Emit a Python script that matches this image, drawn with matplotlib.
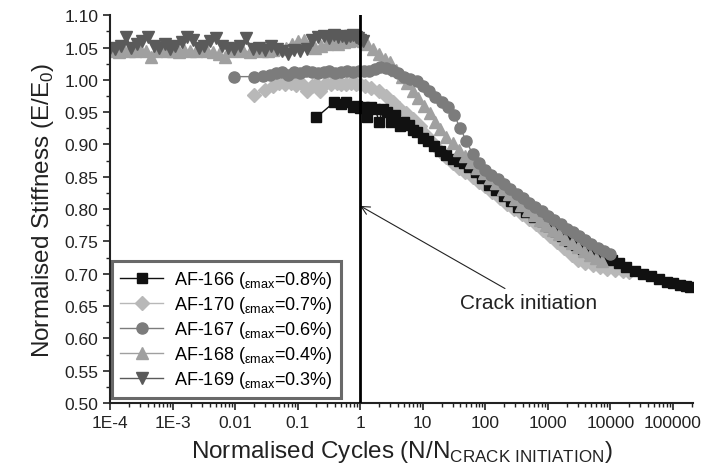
import matplotlib
matplotlib.use('Agg')
import matplotlib.pyplot as plt
from matplotlib.ticker import LogLocator, MultipleLocator, NullFormatter

plt.rcParams['font.family'] = ['Liberation Sans', 'DejaVu Sans']
plt.rcParams['mathtext.fontset'] = 'custom'
plt.rcParams['mathtext.rm'] = 'Liberation Sans'

# AF-169 (emax = 0.3%)
x169 = [1.0e-4, 1.2e-4, 1.5e-4, 1.8e-4, 2.2e-4, 2.7e-4, 3.3e-4, 4.0e-4, 5.0e-4, 6.0e-4,
        7.5e-4, 9.0e-4, 1.1e-3, 1.4e-3, 1.7e-3, 2.1e-3, 2.6e-3, 3.2e-3, 4.0e-3, 5.0e-3,
        6.2e-3, 7.7e-3, 9.5e-3, 0.012, 0.015, 0.019, 0.024, 0.030, 0.037, 0.046,
        0.057, 0.071, 0.088, 0.11, 0.14, 0.17, 0.21, 0.26, 0.32, 0.38,
        0.45, 0.52, 0.60, 0.68, 0.76, 0.85, 0.93, 1.0, 1.1]
y169 = [1.050, 1.048, 1.052, 1.066, 1.050, 1.055, 1.060, 1.066, 1.052, 1.050,
        1.055, 1.048, 1.052, 1.058, 1.066, 1.062, 1.050, 1.053, 1.060, 1.065,
        1.052, 1.050, 1.048, 1.052, 1.064, 1.048, 1.050, 1.046, 1.052, 1.048,
        1.045, 1.040, 1.046, 1.044, 1.048, 1.062, 1.066, 1.068, 1.065, 1.070,
        1.066, 1.068, 1.065, 1.068, 1.070, 1.066, 1.064, 1.062, 1.060]

# AF-168 (emax = 0.4%)
x168 = [1.1e-4, 1.4e-4, 1.7e-4, 2.0e-4, 2.5e-4, 3.0e-4, 3.7e-4, 4.6e-4, 5.5e-4, 6.8e-4,
        8.2e-4, 1.0e-3, 1.25e-3, 1.55e-3, 1.9e-3, 2.4e-3, 2.9e-3, 3.6e-3, 4.5e-3, 5.6e-3,
        7.0e-3, 8.6e-3, 0.011, 0.0135, 0.017, 0.021, 0.027, 0.033, 0.041, 0.051,
        0.064, 0.08, 0.1, 0.125, 0.155, 0.19, 0.24, 0.29, 0.36, 0.44,
        0.55, 0.67, 0.8, 0.95,
        1.1, 1.3, 1.6, 2.0, 2.5, 3.0, 3.7, 4.6, 5.6, 7.0,
        8.5, 10.5, 13, 16, 19, 24, 30, 38, 48, 60,
        75, 95, 120, 150, 190, 240, 300, 380, 480, 600,
        760, 950, 1200, 1500, 1900, 2400, 3000, 3800, 4800, 6000, 7500]
y168 = [1.045, 1.043, 1.046, 1.044, 1.045, 1.048, 1.044, 1.036, 1.045, 1.046,
        1.044, 1.045, 1.043, 1.046, 1.045, 1.044, 1.046, 1.045, 1.043, 1.040,
        1.036, 1.044, 1.046, 1.045, 1.043, 1.046, 1.045, 1.044, 1.046, 1.048,
        1.050, 1.055, 1.060, 1.062, 1.056, 1.050, 1.052, 1.055, 1.058, 1.056,
        1.058, 1.060, 1.062, 1.062,
        1.060, 1.056, 1.048, 1.040, 1.032, 1.027, 1.015, 1.005, 0.995, 0.982,
        0.972, 0.960, 0.948, 0.935, 0.924, 0.912, 0.902, 0.892, 0.882, 0.873,
        0.864, 0.856, 0.848, 0.840, 0.831, 0.823, 0.815, 0.807, 0.799, 0.791,
        0.783, 0.776, 0.768, 0.761, 0.754, 0.747, 0.741, 0.735, 0.729, 0.724, 0.720]

# AF-167 (emax = 0.6%)
x167 = [0.0095, 0.02, 0.028, 0.036, 0.045, 0.056, 0.07, 0.087, 0.11, 0.135,
        0.17, 0.21, 0.26, 0.32, 0.40, 0.50, 0.62, 0.77, 0.95,
        1.15, 1.4, 1.7, 2.1, 2.6, 3.2, 4.0, 5.0, 6.3, 8.0,
        10, 12.5, 16, 20, 25, 32, 40, 50, 63, 80,
        100, 125, 160, 200, 250, 320, 400, 500, 630, 800,
        1000, 1250, 1600, 2000, 2500, 3200, 4000, 5000, 6300, 8000, 10000]
y167 = [1.005, 1.005, 1.006, 1.008, 1.010, 1.012, 1.008, 1.012, 1.010, 1.013,
        1.012, 1.010, 1.012, 1.013, 1.011, 1.012, 1.013, 1.012, 1.013,
        1.013, 1.014, 1.017, 1.020, 1.019, 1.015, 1.010, 1.005, 1.002, 0.998,
        0.990, 0.982, 0.974, 0.965, 0.958, 0.945, 0.925, 0.905, 0.885, 0.872,
        0.860, 0.853, 0.846, 0.839, 0.831, 0.824, 0.817, 0.810, 0.804, 0.797,
        0.790, 0.783, 0.777, 0.770, 0.764, 0.758, 0.752, 0.746, 0.740, 0.735, 0.730]

# AF-170 (emax = 0.7%)
x170 = [0.02, 0.03, 0.04, 0.05, 0.062, 0.077, 0.095, 0.115, 0.14, 0.17,
        0.2, 0.23, 0.28, 0.34, 0.42, 0.5, 0.6, 0.72, 0.86, 1.0,
        1.2, 1.5, 2.0, 2.6, 3.3, 4.2, 5.4, 7.0, 9.0, 11.5,
        14.5, 19, 24, 30, 38, 48, 63, 80, 100, 130,
        170, 220, 290, 390, 500, 650, 850, 1100, 1400, 1800,
        2400, 3100, 4000, 5200, 6800, 9000, 12000, 16000, 20000]
y170 = [0.976, 0.985, 0.990, 0.995, 0.993, 0.995, 0.992, 0.995, 0.982, 0.990,
        0.994, 0.982, 0.995, 0.993, 0.995, 0.994, 0.993, 0.995, 0.993, 0.993,
        0.990, 0.988, 0.982, 0.975, 0.966, 0.957, 0.948, 0.940, 0.928, 0.915,
        0.903, 0.890, 0.880, 0.872, 0.864, 0.857, 0.850, 0.842, 0.835, 0.826,
        0.817, 0.808, 0.800, 0.793, 0.785, 0.777, 0.768, 0.758, 0.749, 0.740,
        0.729, 0.722, 0.717, 0.713, 0.710, 0.708, 0.706, 0.704, 0.702]

# AF-166 (emax = 0.8%)
x166 = [0.2, 0.38, 0.5, 0.59, 0.76, 0.9, 1.0, 1.15, 1.3, 1.5,
        1.75, 2.0, 2.3, 2.7, 3.1, 3.6, 4.3, 5.0, 6.0, 7.0,
        8.1, 10, 12, 15, 19, 24, 30, 38, 45, 55,
        70, 90, 115, 150, 200, 260, 340, 450, 600, 800,
        1000, 1300, 1700, 2200, 2800, 3600, 4600, 6000, 8000, 10500,
        14000, 18000, 25000, 33000, 45000, 60000, 80000, 100000, 130000, 160000, 185000]
y166 = [0.942, 0.965, 0.963, 0.965, 0.958, 0.960, 0.957, 0.958, 0.942, 0.958,
        0.955, 0.935, 0.955, 0.950, 0.935, 0.945, 0.928, 0.935, 0.930, 0.922,
        0.919, 0.910, 0.905, 0.898, 0.890, 0.883, 0.878, 0.875, 0.872, 0.865,
        0.857, 0.848, 0.838, 0.829, 0.820, 0.812, 0.804, 0.796, 0.788, 0.781,
        0.774, 0.766, 0.758, 0.751, 0.745, 0.739, 0.734, 0.729, 0.725, 0.721,
        0.716, 0.711, 0.705, 0.700, 0.696, 0.692, 0.688, 0.686, 0.683, 0.681, 0.680]

xtick_vals = [1e-4, 1e-3, 0.01, 0.1, 1, 10, 100, 1000, 10000, 100000]
xtick_labels = ['1E-4', '1E-3', '0.01', '0.1', '1', '10', '100', '1000', '10000', '100000']

fig = plt.figure(figsize=(7.1, 4.77), dpi=100)
ax = fig.add_axes([0.155, 0.153, 0.821, 0.813])

ms = 8
def lab(name, e):
    return name + r' ($\mathregular{{}_{\varepsilon max}}$=' + e + ')'

# drawing order: light series at the back, darker ones on top
h170, = ax.plot(x170, y170, '-D', color='#b8b8b8', ms=ms * 0.85, lw=1, label=lab('AF-170', '0.7%'))
h166, = ax.plot(x166, y166, '-s', color='#111111', ms=ms * 0.85, lw=1, label=lab('AF-166', '0.8%'))
h168, = ax.plot(x168, y168, '-^', color='#a0a0a0', ms=ms, lw=1, label=lab('AF-168', '0.4%'))
h167, = ax.plot(x167, y167, '-o', color='#7c7c7c', ms=ms, lw=1, label=lab('AF-167', '0.6%'))
h169, = ax.plot(x169, y169, '-v', color='#5a5a5a', ms=ms, lw=1, label=lab('AF-169', '0.3%'))

ax.axvline(1, color='black', lw=2, zorder=5)

ax.annotate('Crack initiation', xy=(1, 0.805), xytext=(40, 0.656),
            fontsize=15, color='#222222', va='center', ha='left',
            arrowprops=dict(arrowstyle='->', color='#222222', lw=0.8, shrinkA=2, shrinkB=0))

ax.set_xscale('log')
ax.set_xlim(1e-4, 2.1e5)
ax.set_ylim(0.5, 1.1)
ax.set_xticks(xtick_vals)
ax.set_xticklabels(xtick_labels)
ax.xaxis.set_minor_locator(LogLocator(base=10, subs=range(2, 10), numticks=20))
ax.xaxis.set_minor_formatter(NullFormatter())
ax.yaxis.set_major_locator(MultipleLocator(0.05))
ax.yaxis.set_minor_locator(MultipleLocator(0.025))
ax.yaxis.set_major_formatter(matplotlib.ticker.FormatStrFormatter('%.2f'))

ax.spines['top'].set_visible(False)
ax.spines['right'].set_visible(False)
for s in ['left', 'bottom']:
    ax.spines[s].set_linewidth(1.5)
    ax.spines[s].set_color('#222222')
ax.tick_params(which='major', direction='out', length=5, width=1.2, labelsize=12.5, colors='#222222')
ax.tick_params(which='minor', direction='out', length=3, width=1, colors='#222222')

ax.set_xlabel(r'Normalised Cycles (N/N$_{\mathregular{CRACK\ INITIATION}}$)', fontsize=17.5, color='#222222', labelpad=6)
ax.set_ylabel(r'Normalised Stiffness (E/E$_{\mathregular{0}}$)', fontsize=17.5, color='#222222', labelpad=6)

leg = ax.legend(handles=[h166, h170, h167, h168, h169], loc='lower left',
                bbox_to_anchor=(0.003, 0.013), borderaxespad=0, fontsize=13,
                handlelength=2.4, handletextpad=0.6, frameon=True, fancybox=False,
                labelspacing=0.22, borderpad=0.45)
leg.get_frame().set_edgecolor('#444444')
leg.get_frame().set_linewidth(2.2)
leg.set_zorder(10)

plt.savefig('out.png', dpi=100)
